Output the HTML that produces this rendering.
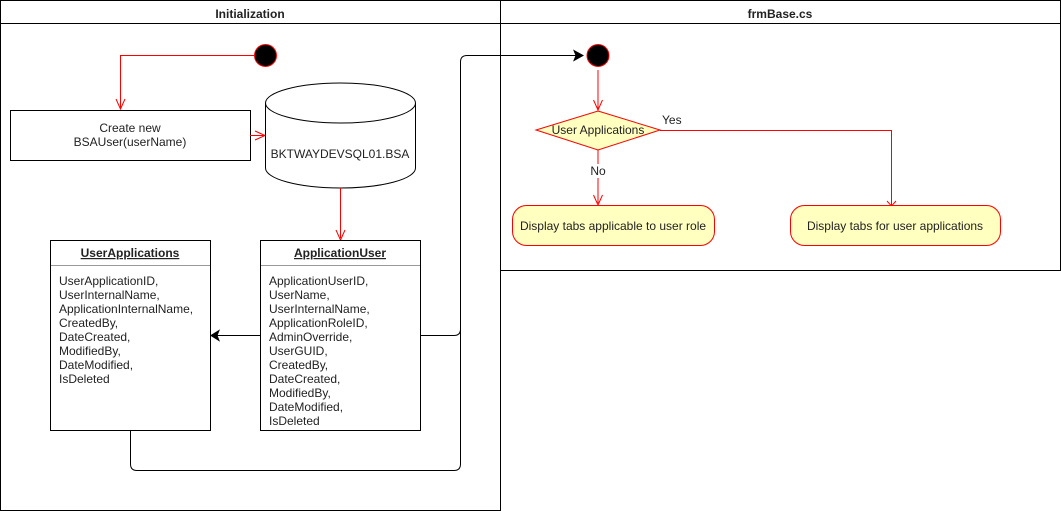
<!DOCTYPE html>
<html><head><style>body{margin:0;background:#fff}svg{display:block}text{font-family:"Liberation Sans",Arial,sans-serif;font-size:12px;fill:#222}</style></head>
<body>
<svg width="1061" height="511" viewBox="0 0 1061 511" xmlns="http://www.w3.org/2000/svg">
<rect x="0.5" y="0.5" width="500" height="510" fill="#fff" stroke="#000"/>
<line x1="0" y1="23.5" x2="500" y2="23.5" stroke="#000"/>
<text x="250" y="18" text-anchor="middle" font-weight="bold">Initialization</text>
<rect x="500.5" y="0.5" width="560" height="270" fill="#fff" stroke="#000"/>
<line x1="500" y1="23.5" x2="1061" y2="23.5" stroke="#000"/>
<text x="780" y="18" text-anchor="middle" font-weight="bold">frmBase.cs</text>

<circle cx="265.5" cy="55.5" r="11" fill="#000" stroke="#f00"/>
<path d="M254 55.5 H120.5 V108" fill="none" stroke="#f00"/>
<path d="M116 99 L120.5 109 L125 99" fill="none" stroke="#f00"/>
<rect x="10.5" y="110.5" width="240" height="50" fill="#fff" stroke="#000"/>
<text x="130" y="132" text-anchor="middle">Create new</text>
<text x="130" y="146" text-anchor="middle">BSAUser(userName)</text>
<path d="M250 135.5 H264" stroke="#f00"/>
<path d="M255 131 L265 135.5 L255 140" fill="none" stroke="#f00"/>
<path d="M265.5 103 V168 A75 20 0 0 0 415.5 168 V103" fill="#fff" stroke="#000"/>
<ellipse cx="340.5" cy="103" rx="75" ry="20" fill="#fff" stroke="#000"/>
<text x="340" y="158" text-anchor="middle">BKTWAYDEVSQL01.BSA</text>
<path d="M340.5 188 V238" stroke="#f00"/>
<path d="M336 230 L340.5 240 L345 230" fill="none" stroke="#f00"/>

<rect x="50.5" y="240.5" width="160" height="190" fill="#fff" stroke="#000"/>
<line x1="51" y1="265.5" x2="210" y2="265.5" stroke="#999"/>
<text x="130" y="257" text-anchor="middle" font-weight="bold" text-decoration="underline">UserApplications</text>
<g>
<text x="59" y="285">UserApplicationID,</text>
<text x="59" y="299">UserInternalName,</text>
<text x="59" y="313">ApplicationInternalName,</text>
<text x="59" y="327">CreatedBy,</text>
<text x="59" y="341">DateCreated,</text>
<text x="59" y="355">ModifiedBy,</text>
<text x="59" y="369">DateModified,</text>
<text x="59" y="383">IsDeleted</text>
</g>
<rect x="260.5" y="240.5" width="160" height="190" fill="#fff" stroke="#000"/>
<line x1="261" y1="265.5" x2="420" y2="265.5" stroke="#999"/>
<text x="340" y="257" text-anchor="middle" font-weight="bold" text-decoration="underline">ApplicationUser</text>
<g>
<text x="269" y="285">ApplicationUserID,</text>
<text x="269" y="299">UserName,</text>
<text x="269" y="313">UserInternalName,</text>
<text x="269" y="327">ApplicationRoleID,</text>
<text x="269" y="341">AdminOverride,</text>
<text x="269" y="355">UserGUID,</text>
<text x="269" y="369">CreatedBy,</text>
<text x="269" y="383">DateCreated,</text>
<text x="269" y="397">ModifiedBy,</text>
<text x="269" y="411">DateModified,</text>
<text x="269" y="425">IsDeleted</text>
</g>
<path d="M260 335.5 H214" stroke="#000"/>
<path d="M219 330.5 L211 335.5 L219 340.5 L217 335.5 Z" fill="#000" stroke="#000"/>
<path d="M130.5 431 V464 Q130.5 470.5 137 470.5 H454 Q460.5 470.5 460.5 464 V62 Q460.5 55.5 467 55.5 H578" fill="none" stroke="#000"/>
<path d="M420 335.5 H454 Q460.5 335.5 460.5 329" fill="none" stroke="#000"/>
<path d="M574 50.5 L583 55.5 L574 60.5 L576 55.5 Z" fill="#000" stroke="#000"/>

<circle cx="598" cy="55.5" r="11" fill="#000" stroke="#f00"/>
<path d="M598 70 V109" stroke="#f00"/>
<path d="M593.5 100 L598 110 L602.5 100" fill="none" stroke="#f00"/>
<polygon points="598,111 660,130 598,150 536,130" fill="#ffffc0" stroke="#f00"/>
<text x="598" y="134" text-anchor="middle">User Applications</text>
<path d="M598 150 V203" stroke="#f00"/>
<rect x="590" y="164" width="16" height="14" fill="#fff"/>
<text x="598" y="175" text-anchor="middle">No</text>
<path d="M593.5 195 L598 205 L602.5 195" fill="none" stroke="#f00"/>
<text x="662" y="124">Yes</text>
<path d="M660 130.5 H891.5 V205" fill="none" stroke="#f00"/>
<path d="M887 201 L891.5 206 L896 201" fill="none" stroke="#f00"/>
<rect x="512.5" y="205.5" width="202" height="40" rx="14" fill="#ffffc0" stroke="#f00"/>
<text x="613" y="230" text-anchor="middle">Display tabs applicable to user role</text>
<rect x="790.5" y="205.5" width="210" height="40" rx="14" fill="#ffffc0" stroke="#f00"/>
<text x="895" y="230" text-anchor="middle">Display tabs for user applications</text>
</svg>
</body></html>
